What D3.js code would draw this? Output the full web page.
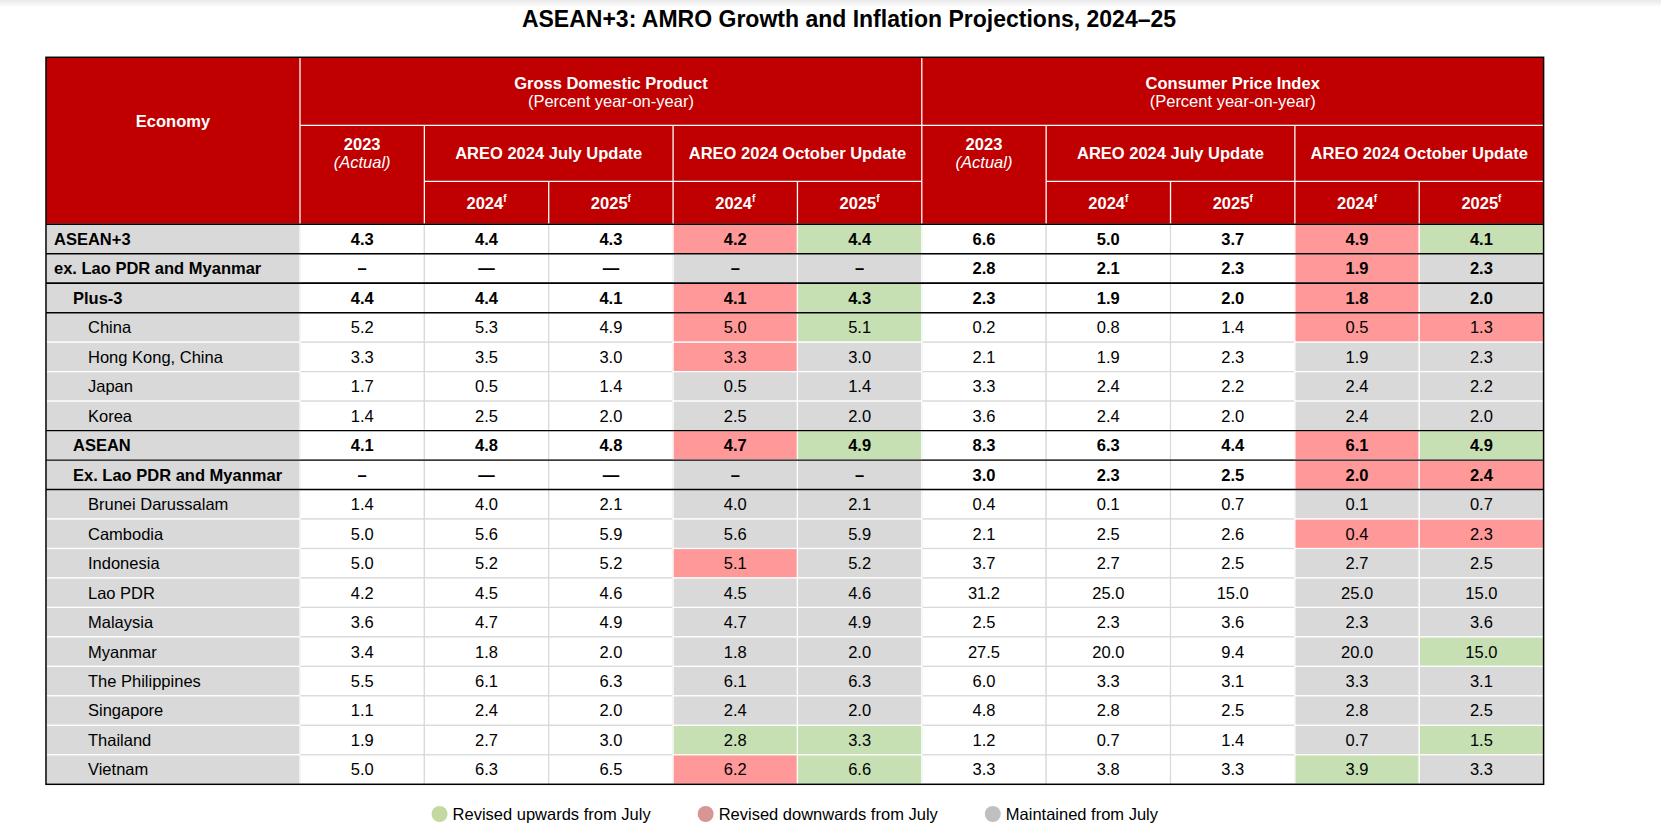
<!DOCTYPE html>
<html><head><meta charset="utf-8">
<script src="https://cdn.jsdelivr.net/npm/d3@7"></script>
<style>
body{margin:0;background:#fff}
svg{display:block}
text{font-family:"Liberation Sans",Arial,Helvetica,sans-serif}
</style>
</head><body>
<svg id="chart" width="1661" height="826"></svg>
<script>
// ---------------- DATA ----------------
const title = "ASEAN+3: AMRO Growth and Inflation Projections, 2024–25";
const economies = ["ASEAN+3","ex. Lao PDR and Myanmar","Plus-3","China","Hong Kong, China","Japan","Korea","ASEAN","Ex. Lao PDR and Myanmar","Brunei Darussalam","Cambodia","Indonesia","Lao PDR","Malaysia","Myanmar","The Philippines","Singapore","Thailand","Vietnam"];
const hierarchyLevel = [0,0,1,2,2,2,2,1,1,2,2,2,2,2,2,2,2,2,2];
const isAggregate = [true,true,true,false,false,false,false,true,true,false,false,false,false,false,false,false,false,false,false];

const gdp2023  = [4.3,null,4.4,5.2,3.3,1.7,1.4,4.1,null,1.4,5.0,5.0,4.2,3.6,3.4,5.5,1.1,1.9,5.0];
const gdpJul24 = [4.4,null,4.4,5.3,3.5,0.5,2.5,4.8,null,4.0,5.6,5.2,4.5,4.7,1.8,6.1,2.4,2.7,6.3];
const gdpJul25 = [4.3,null,4.1,4.9,3.0,1.4,2.0,4.8,null,2.1,5.9,5.2,4.6,4.9,2.0,6.3,2.0,3.0,6.5];
const gdpOct24 = [4.2,null,4.1,5.0,3.3,0.5,2.5,4.7,null,4.0,5.6,5.1,4.5,4.7,1.8,6.1,2.4,2.8,6.2];
const gdpOct25 = [4.4,null,4.3,5.1,3.0,1.4,2.0,4.9,null,2.1,5.9,5.2,4.6,4.9,2.0,6.3,2.0,3.3,6.6];

const cpi2023  = [6.6,2.8,2.3,0.2,2.1,3.3,3.6,8.3,3.0,0.4,2.1,3.7,31.2,2.5,27.5,6.0,4.8,1.2,3.3];
const cpiJul24 = [5.0,2.1,1.9,0.8,1.9,2.4,2.4,6.3,2.3,0.1,2.5,2.7,25.0,2.3,20.0,3.3,2.8,0.7,3.8];
const cpiJul25 = [3.7,2.3,2.0,1.4,2.3,2.2,2.0,4.4,2.5,0.7,2.6,2.5,15.0,3.6,9.4,3.1,2.5,1.4,3.3];
const cpiOct24 = [4.9,1.9,1.8,0.5,1.9,2.4,2.4,6.1,2.0,0.1,0.4,2.7,25.0,2.3,20.0,3.3,2.8,0.7,3.9];
const cpiOct25 = [4.1,2.3,2.0,1.3,2.3,2.2,2.0,4.9,2.4,0.7,2.3,2.5,15.0,3.6,15.0,3.1,2.5,1.5,3.3];

const measures = ["Gross Domestic Product","Consumer Price Index"];
const measureUnit = "(Percent year-on-year)";
const actualYear = "2023";
const actualNote = "(Actual)";
const vintages = ["AREO 2024 July Update","AREO 2024 October Update"];
const forecastYears = ["2024","2025"];
const forecastMark = "f";
const economyHeader = "Economy";

const legendLabels = ["Revised upwards from July","Revised downwards from July","Maintained from July"];

// ---------------- LAYOUT / STYLE ----------------
const W = 1661, H = 826;
const tableL = 46, tableR = 1543.6, econR = 300;
const yTop = 57.3, yH1 = 125.3, yH2 = 181.3, yHead = 224.3, yBottom = 784.3;
const FS = 16.5;
const RED = "#C00000", GRAY = "#D9D9D9", PINK = "#FF9999", GREEN = "#C6E0B4";
const LEG_COLORS = ["#C4D9A2","#D99594","#C0C0C0"];

const columns = [
  {vals: gdp2023,  type: "actual", dash: "–"},
  {vals: gdpJul24, type: "july",   dash: "—"},
  {vals: gdpJul25, type: "july",   dash: "—"},
  {vals: gdpOct24, type: "oct",    dash: "–", ref: gdpJul24},
  {vals: gdpOct25, type: "oct",    dash: "–", ref: gdpJul25},
  {vals: cpi2023,  type: "actual", dash: "–"},
  {vals: cpiJul24, type: "july",   dash: "—"},
  {vals: cpiJul25, type: "july",   dash: "—"},
  {vals: cpiOct24, type: "oct",    dash: "–", ref: cpiJul24},
  {vals: cpiOct25, type: "oct",    dash: "–", ref: cpiJul25},
];

const svg = d3.select("#chart");

// faint top shadow band
const defs = svg.append("defs");
const grad = defs.append("linearGradient").attr("id","topshade").attr("x1",0).attr("x2",0).attr("y1",0).attr("y2",1);
grad.append("stop").attr("offset","0%").attr("stop-color","#000").attr("stop-opacity",0.09);
grad.append("stop").attr("offset","100%").attr("stop-color","#000").attr("stop-opacity",0);
svg.append("rect").attr("x",0).attr("y",0).attr("width",W).attr("height",7).attr("fill","url(#topshade)");

// scales
const xCol = d3.scaleBand().domain(d3.range(columns.length)).range([econR, tableR]).padding(0);
const yRow = d3.scaleBand().domain(d3.range(economies.length)).range([yHead, yBottom]).padding(0);
const cw = xCol.bandwidth(), rh = yRow.bandwidth();

// title
svg.append("text").attr("x", 849).attr("y", 27).attr("text-anchor","middle")
  .attr("font-size", 23).attr("font-weight","bold").attr("fill","#000").text(title);

// ---------------- HEADER ----------------
const head = svg.append("g");
head.append("rect").attr("x",tableL).attr("y",yTop).attr("width",tableR-tableL).attr("height",yHead-yTop).attr("fill",RED);

function wline(x1,y1,x2,y2){
  head.append("line").attr("x1",x1).attr("y1",y1).attr("x2",x2).attr("y2",y2)
    .attr("stroke","#fff").attr("stroke-width",1.3);
}
wline(econR, yTop, econR, yHead);
wline(econR, yH1, tableR, yH1);

head.append("text").attr("x",(tableL+econR)/2).attr("y", 126.7).attr("text-anchor","middle")
  .attr("font-size",FS).attr("font-weight","bold").attr("fill","#fff").text(economyHeader);

measures.forEach((m, mi) => {
  const s = mi*5;
  const x0 = xCol(s), x1 = xCol(s+4) + cw;
  if (mi > 0) wline(x0, yTop, x0, yHead);
  head.append("text").attr("x",(x0+x1)/2).attr("y",88.6).attr("text-anchor","middle")
    .attr("font-size",FS).attr("font-weight","bold").attr("fill","#fff").text(m);
  head.append("text").attr("x",(x0+x1)/2).attr("y",106.6).attr("text-anchor","middle")
    .attr("font-size",FS).attr("fill","#fff").text(measureUnit);
  const ax = xCol(s) + cw/2;
  head.append("text").attr("x",ax).attr("y",150.2).attr("text-anchor","middle")
    .attr("font-size",FS).attr("font-weight","bold").attr("fill","#fff").text(actualYear);
  head.append("text").attr("x",ax).attr("y",168.4).attr("text-anchor","middle")
    .attr("font-size",FS).attr("font-style","italic").attr("fill","#fff").text(actualNote);
  wline(xCol(s+1), yH1, xCol(s+1), yHead);
  wline(xCol(s+1), yH2, x1, yH2);
  vintages.forEach((v, vi) => {
    const c0 = s + 1 + vi*2;
    const gx0 = xCol(c0), gx1 = xCol(c0+1) + cw;
    if (vi > 0) wline(gx0, yH1, gx0, yHead);
    wline(xCol(c0+1), yH2, xCol(c0+1), yHead);
    head.append("text").attr("x",(gx0+gx1)/2).attr("y",159.1).attr("text-anchor","middle")
      .attr("font-size",FS).attr("font-weight","bold").attr("fill","#fff").text(v);
    forecastYears.forEach((yr, yi) => {
      const t = head.append("text").attr("x", xCol(c0+yi) + cw/2).attr("y", 209)
        .attr("text-anchor","middle").attr("font-size",FS).attr("font-weight","bold").attr("fill","#fff");
      t.append("tspan").text(yr);
      t.append("tspan").attr("font-size",10).attr("dy",-7).text(forecastMark);
    });
  });
});

// ---------------- BODY ----------------
const body = svg.append("g");
function cellFill(col, i){
  if (col.type !== "oct") return "#fff";
  const v = col.vals[i], r = col.ref[i];
  if (v == null || r == null || v === r) return GRAY;
  return v > r ? GREEN : PINK;
}
economies.forEach((e, i) => {
  columns.forEach((col, ci) => {
    if (cellFill(col,i) === "#fff") {
      body.append("rect").attr("x", xCol(ci)).attr("y", yRow(i)).attr("width", cw).attr("height", rh)
        .attr("fill","#fff").attr("stroke","#D9D9D9").attr("stroke-width",1.2);
    }
  });
});
economies.forEach((e, i) => {
  body.append("rect").attr("x", tableL).attr("y", yRow(i)).attr("width", econR - tableL).attr("height", rh)
    .attr("fill", GRAY).attr("stroke","#fff").attr("stroke-width",1.2);
  columns.forEach((col, ci) => {
    const f = cellFill(col,i);
    if (f !== "#fff") {
      body.append("rect").attr("x", xCol(ci)).attr("y", yRow(i)).attr("width", cw).attr("height", rh)
        .attr("fill", f).attr("stroke","#fff").attr("stroke-width",1.2);
    }
  });
});
const indent = [8, 27, 42];
economies.forEach((e, i) => {
  const cy = yRow(i) + rh/2 + FS*0.355;
  body.append("text").attr("x", tableL + indent[hierarchyLevel[i]]).attr("y", cy)
    .attr("font-size", FS).attr("font-weight", isAggregate[i] ? "bold" : "normal").attr("fill","#000").text(e);
  columns.forEach((col, ci) => {
    const v = col.vals[i];
    body.append("text").attr("x", xCol(ci) + cw/2).attr("y", cy).attr("text-anchor","middle")
      .attr("font-size", FS).attr("font-weight", isAggregate[i] ? "bold" : "normal").attr("fill","#000")
      .text(v == null ? col.dash : d3.format(".1f")(v));
  });
});
const blackYs = new Set([yHead]);
economies.forEach((e, i) => {
  if (isAggregate[i]) { blackYs.add(yRow(i)); blackYs.add(yRow(i) + rh); }
});
blackYs.forEach(y => {
  body.append("line").attr("x1", tableL).attr("x2", tableR).attr("y1", y).attr("y2", y)
    .attr("stroke","#000").attr("stroke-width",1.4);
});
svg.append("rect").attr("x", tableL).attr("y", yTop).attr("width", tableR - tableL).attr("height", yBottom - yTop)
  .attr("fill","none").attr("stroke","#000").attr("stroke-width",1.5);

// ---------------- LEGEND ----------------
const leg = svg.append("g");
const legY = 814, r = 8, gapIn = 5, gapOut = 47;
const items = legendLabels.map((lab, li) => {
  const g = leg.append("g");
  g.append("circle").attr("cx", r).attr("cy", legY).attr("r", r).attr("fill", LEG_COLORS[li]);
  const t = g.append("text").attr("x", 2*r + gapIn).attr("y", legY + FS*0.355)
    .attr("font-size", FS).attr("fill","#000").text(lab);
  return {g, w: 2*r + gapIn + t.node().getComputedTextLength()};
});
const totalW = d3.sum(items, d => d.w) + gapOut*(items.length-1);
let lx = (tableL + tableR)/2 - totalW/2;
items.forEach(it => { it.g.attr("transform", `translate(${lx},0)`); lx += it.w + gapOut; });
</script>
</body></html>
